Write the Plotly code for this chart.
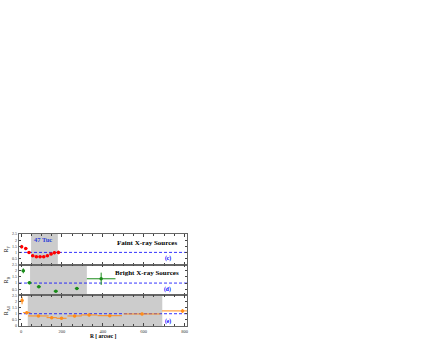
import plotly.graph_objects as go
from plotly.subplots import make_subplots

# Panel (c): faint X-ray sources
faint_r = [3, 23, 39, 57, 75, 93, 111, 129, 147, 163, 183]
faint_v = [1.47, 1.31, 1.0, 0.73, 0.65, 0.65, 0.65, 0.73, 0.86, 0.98, 1.0]
faint_ey = [0.14, 0.12, 0.1, 0.08, 0.08, 0.08, 0.08, 0.08, 0.1, 0.12, 0.14]
faint_ex = [6, 8, 8, 8, 8, 8, 8, 8, 8, 8, 10]

# Panel (d): bright X-ray sources
bright_r = [11, 41, 87, 170, 273, 392]
bright_v = [2.0, 1.02, 0.70, 0.34, 0.56, 1.35]
bright_ey = [0.2, 0.12, 0.1, 0.08, 0.1, 0.5]
bright_ex = [8, 10, 10, 10, 10, 70]

# Panel (e): all X-ray sources
all_r = [5, 28, 85, 150, 198, 262, 333, 434, 592, 790]
all_v = [2.07, 1.09, 0.82, 0.68, 0.63, 0.82, 0.9, 0.84, 0.98, 1.23]
all_ey = [0.3, 0.12, 0.08, 0.08, 0.08, 0.1, 0.1, 0.1, 0.1, 0.15]
all_ex = [5, 18, 50, 25, 25, 35, 40, 60, 90, 100]

# shaded regions [start, end] per panel
shade_c = [49, 180]
shade_d = [44, 322]
shade_e = [33, 691]

x_ticks = [0, 200, 400, 600, 800]
y_ticks_upper = [0.5, 1, 1.5, 2, 2.5]
y_ticks_lower = [0, 0.5, 1, 1.5, 2, 2.5]
x_range = [-10, 812]
y_range = [0, 2.5]

FONT = "Liberation Serif"

fig = make_subplots(rows=3, cols=1, shared_xaxes=True, vertical_spacing=0)

series = [
    (faint_r, faint_v, faint_ey, faint_ex, "red"),
    (bright_r, bright_v, bright_ey, bright_ex, "#1a8c1a"),
    (all_r, all_v, all_ey, all_ex, "#ff8c1a"),
]
for i, (xr, yv, ey, ex, col) in enumerate(series, start=1):
    # reference line at R = 1
    fig.add_trace(go.Scatter(
        x=x_range, y=[1, 1], mode="lines",
        line=dict(color="blue", width=0.8, dash="3px,2px"),
        showlegend=False, hoverinfo="skip"), row=i, col=1)
    fig.add_trace(go.Scatter(
        x=xr, y=yv, mode="markers",
        marker=dict(color=col, size=3.5, symbol="circle"),
        error_y=dict(type="data", array=ey, color=col, thickness=1, width=0),
        error_x=dict(type="data", array=ex, color=col, thickness=1, width=0),
        showlegend=False), row=i, col=1)

for i, sh in enumerate([shade_c, shade_d, shade_e], start=1):
    ya = "y" if i == 1 else f"y{i}"
    xa = "x" if i == 1 else f"x{i}"
    fig.add_shape(type="rect", xref=xa, yref=f"{ya} domain",
                  x0=sh[0], x1=sh[1], y0=0, y1=1,
                  fillcolor="#cccccc", line=dict(width=0), layer="below")

ylabels = ["R<sub>F</sub>", "R<sub>B</sub>", "R<sub>All</sub>"]
for i in range(1, 4):
    yt = y_ticks_lower if i == 3 else y_ticks_upper
    fig.update_yaxes(
        range=y_range, tickvals=yt, ticktext=[f"{v:g}" for v in yt],
        tickfont=dict(size=4, family=FONT, color="#333"),
        ticks="inside", ticklen=2, tickwidth=0.5, mirror="ticks",
        showline=True, linecolor="#666", linewidth=1.2, showgrid=False, zeroline=False,
        automargin=False,
        title=dict(text=ylabels[i - 1], font=dict(size=6, family=FONT, color="black"), standoff=2),
        row=i, col=1)
    fig.update_xaxes(
        range=x_range, tickvals=x_ticks,
        tickfont=dict(size=4.5, family=FONT, color="#333"),
        ticks="inside", ticklen=2.5, tickwidth=0.6, mirror="ticks",
        minor=dict(dtick=50, ticks="inside", ticklen=1.5, tickwidth=0.5, tick0=0),
        showline=True, linecolor="#666", linewidth=1.2, showgrid=False, zeroline=False,
        automargin=False,
        row=i, col=1)

ann = dict(showarrow=False, font=dict(family=FONT, size=7, color="black"))
blue_small = dict(family=FONT, size=5.5, color="blue")
fig.add_annotation(x=0.5, y=0, xref="paper", yref="paper", yshift=-9.5, text="<b>R [ arcsec ]</b>",
                   xanchor="center", yanchor="middle", showarrow=False,
                   font=dict(family=FONT, size=5.5, color="black"))
fig.add_annotation(x=0.08, y=0.99, xref="x domain", yref="y domain", text="<b>47 Tuc</b>",
                   xanchor="left", yanchor="top", showarrow=False,
                   font=dict(family=FONT, size=6.5, color="#2a3fd8"))
fig.add_annotation(x=0.955, y=0.7, xref="x domain", yref="y domain", text="<b>Faint X-ray Sources</b>",
                   xanchor="right", yanchor="middle", **ann)
fig.add_annotation(x=0.885, y=0.2, xref="x domain", yref="y domain", text="<b>(c)</b>",
                   xanchor="center", yanchor="middle", showarrow=False, font=blue_small)
fig.add_annotation(x=0.965, y=0.74, xref="x2 domain", yref="y2 domain", text="<b>Bright X-ray Sources</b>",
                   xanchor="right", yanchor="middle", **ann)
fig.add_annotation(x=0.885, y=0.2, xref="x2 domain", yref="y2 domain", text="<b>(d)</b>",
                   xanchor="center", yanchor="middle", showarrow=False, font=blue_small)
fig.add_annotation(x=0.885, y=0.16, xref="x3 domain", yref="y3 domain", text="<b>(e)</b>",
                   xanchor="center", yanchor="middle", showarrow=False, font=blue_small)

fig.update_layout(
    width=424, height=339,
    margin=dict(l=19, r=237, t=234, b=13),
    paper_bgcolor="white", plot_bgcolor="white",
    font=dict(family=FONT),
)
fig.write_html("out.html", config={"displayModeBar": False},
               post_script="document.body.style.margin='0';")
